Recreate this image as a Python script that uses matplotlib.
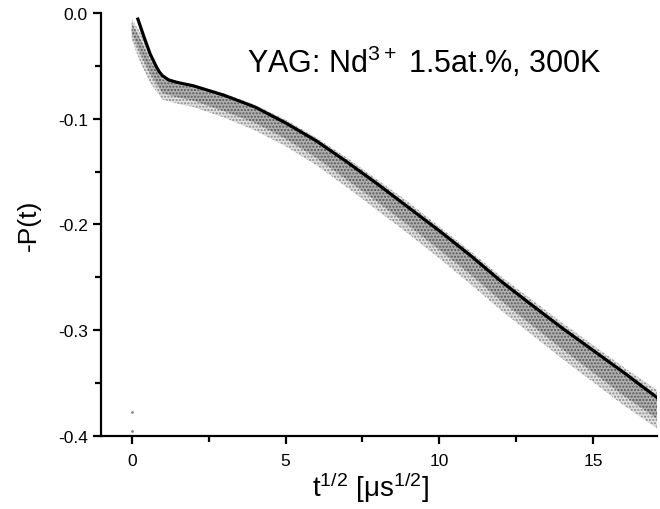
import matplotlib
matplotlib.use("Agg")
import matplotlib.pyplot as plt
import numpy as np

plt.rcParams['font.family'] = ['Liberation Sans', 'DejaVu Sans']
plt.rcParams['mathtext.fontset'] = 'custom'
plt.rcParams['mathtext.rm'] = 'Liberation Sans'
plt.rcParams['mathtext.it'] = 'Liberation Sans:italic'
plt.rcParams['mathtext.default'] = 'regular'

# fitted curve
fit_x = [0.2, 0.4, 0.6, 0.8, 0.9, 1.0, 1.2, 1.5, 2.0, 3.0, 4.0, 5.0, 6.0, 7.0, 8.0, 9.0,
         10.0, 11.0, 12.0, 13.0, 14.0, 15.0, 16.0, 17.1]
fit_y = [-0.006, -0.023, -0.039, -0.051, -0.056, -0.0595, -0.0635, -0.066, -0.069,
         -0.078, -0.089, -0.104, -0.121, -0.141, -0.162, -0.184, -0.206, -0.229,
         -0.2535, -0.276, -0.298, -0.319, -0.340, -0.364]

# measured data cloud: outer (sparse) and inner (dense) envelopes
cloud_x = [0.0, 0.3, 0.6, 1.0, 1.5, 2.0, 3.0, 4.0, 5.0, 6.0, 7.0, 8.0, 9.0,
           10.0, 11.0, 12.0, 13.0, 14.0, 15.0, 16.0, 17.1]
outer_top = [-0.006, -0.020, -0.040, -0.060, -0.065, -0.068, -0.076, -0.087, -0.101,
             -0.118, -0.137, -0.158, -0.179, -0.202, -0.225, -0.249, -0.271, -0.293,
             -0.314, -0.335, -0.357]
outer_bot = [-0.026, -0.048, -0.066, -0.082, -0.086, -0.089, -0.099, -0.111, -0.126,
             -0.144, -0.165, -0.187, -0.209, -0.232, -0.256, -0.281, -0.304, -0.327,
             -0.349, -0.371, -0.393]
inner_top = [-0.010, -0.026, -0.046, -0.063, -0.068, -0.071, -0.080, -0.091, -0.105,
             -0.122, -0.142, -0.163, -0.184, -0.207, -0.230, -0.254, -0.277, -0.299,
             -0.320, -0.342, -0.364]
inner_bot = [-0.020, -0.040, -0.058, -0.076, -0.080, -0.083, -0.093, -0.104, -0.119,
             -0.137, -0.158, -0.179, -0.201, -0.224, -0.247, -0.272, -0.295, -0.318,
             -0.340, -0.362, -0.384]

# isolated outlier points near t=0
out_x = [0.0, 0.0]
out_y = [-0.377, -0.395]

fig = plt.figure(figsize=(6.6, 5.1), dpi=100)
ax = fig.add_axes([0.153, 0.143, 0.842, 0.830])

ax.fill_between(cloud_x, outer_top, outer_bot, facecolor='#e0e0e0', edgecolor='#8a8a8a',
                hatch='.....', linewidth=0)
ax.fill_between(cloud_x, inner_top, inner_bot, facecolor='#b0b0b0', edgecolor='#555555',
                hatch='.....', linewidth=0)
ax.plot(out_x, out_y, linestyle='none', marker='.', markersize=2, color='#888888')
ax.plot(fit_x, fit_y, color='black', linewidth=2.3)

ax.set_xlim(-1.0, 17.07)
ax.set_ylim(-0.4, 0.0)
for s in ['top', 'right']:
    ax.spines[s].set_visible(False)
for s in ['left', 'bottom']:
    ax.spines[s].set_linewidth(1.6)

ax.set_xticks([0, 5, 10, 15])
ax.set_xticks([2.5, 7.5, 12.5], minor=True)
ax.set_yticks([0.0, -0.1, -0.2, -0.3, -0.4])
ax.set_yticklabels(['0.0', '-0.1', '-0.2', '-0.3', '-0.4'])
ax.set_yticks([-0.05, -0.15, -0.25, -0.35], minor=True)
ax.tick_params(which='major', direction='out', length=6, width=1.6, labelsize=12.5)
ax.tick_params(axis='x', which='major', pad=6)
ax.tick_params(which='minor', direction='out', length=4, width=1.6)

ax.set_xlabel('t$^{1/2}$ [μs$^{1/2}$]', fontsize=20)
ax.xaxis.set_label_coords(0.484, -0.078)
ax.set_ylabel('-P(t)', fontsize=19)
ax.yaxis.set_label_coords(-0.108, 0.5)

ax.text(0.581, 0.885, 'YAG: Nd$^{3+}$ 1.5at.%, 300K', transform=ax.transAxes,
        fontsize=22, ha='center', va='center')

fig.savefig('out.png', dpi=100)
